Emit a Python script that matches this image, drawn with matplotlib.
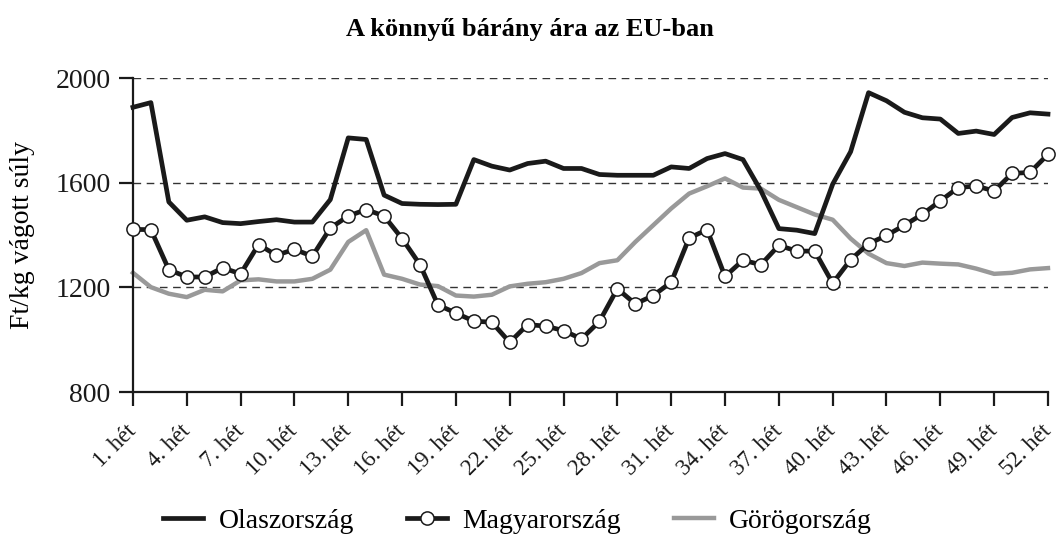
import matplotlib.pyplot as plt
import numpy as np

plt.rcParams['font.family'] = ['Liberation Serif', 'DejaVu Serif']

weeks = list(range(1, 53))
tick_weeks = list(range(1, 53, 3))
tick_labels = [str(w) + '. hét' for w in tick_weeks]

olasz = [1889, 1907, 1527, 1457, 1470, 1448, 1444, 1452, 1459, 1450,
         1450, 1536, 1772, 1766, 1553, 1521, 1518, 1517, 1518, 1689,
         1664, 1649, 1674, 1683, 1655, 1655, 1632, 1629, 1629, 1629,
         1661, 1655, 1693, 1712, 1689, 1570, 1425, 1419, 1406, 1595,
         1719, 1945, 1914, 1870, 1849, 1844, 1789, 1798, 1785, 1850,
         1868, 1863]
magyar = [1422, 1421, 1268, 1240, 1240, 1275, 1252, 1364, 1323, 1346,
          1319, 1427, 1473, 1498, 1473, 1387, 1287, 1133, 1102, 1071,
          1067, 990, 1058, 1052, 1035, 1003, 1070, 1195, 1137, 1169,
          1220, 1389, 1421, 1242, 1304, 1287, 1361, 1339, 1339, 1216,
          1306, 1367, 1399, 1438, 1480, 1531, 1582, 1588, 1569, 1636,
          1640, 1709]
gorog = [1256, 1201, 1176, 1163, 1191, 1185, 1227, 1231, 1223, 1223,
         1233, 1268, 1374, 1419, 1249, 1233, 1211, 1205, 1169, 1165,
         1172, 1204, 1214, 1220, 1233, 1255, 1293, 1304, 1374, 1438,
         1502, 1559, 1587, 1617, 1582, 1578, 1535, 1507, 1479, 1459,
         1387, 1329, 1293, 1282, 1295, 1291, 1288, 1272, 1252, 1256,
         1269, 1274]

fig = plt.figure(figsize=(10.56, 5.34), dpi=100)
ax = fig.add_axes([0.1259, 0.2659, 0.8665, 0.5875])

for y in [1200, 1600, 2000]:
    ax.axhline(y, color='#333333', lw=1.0, ls=(0, (5.5, 4)), zorder=1)

ax.plot(weeks, gorog, color='#999999', lw=3.2, label='Görögország', zorder=2, clip_on=False)
ax.plot(weeks, olasz, color='#1a1a1a', lw=3.4, label='Olaszország', zorder=3, clip_on=False)
ax.plot(weeks, magyar, color='#1a1a1a', lw=3.4, marker='o', markersize=9.5,
        markerfacecolor='white', markeredgecolor='#1a1a1a', markeredgewidth=1.1,
        label='Magyarország', zorder=4, clip_on=False)

ax.set_xlim(1, 52)
ax.set_ylim(800, 2000)
ax.set_yticks([800, 1200, 1600, 2000])
ax.set_xticks(tick_weeks)
ax.set_xticklabels(tick_labels, rotation=45, ha='right', va='center', rotation_mode='anchor')

for s in ['top', 'right']:
    ax.spines[s].set_visible(False)
for s in ['left', 'bottom']:
    ax.spines[s].set_linewidth(1.6)
    ax.spines[s].set_color('#1a1a1a')

ax.tick_params(axis='y', direction='out', length=10, width=1.6, labelsize=20, pad=6, colors='#1a1a1a')
ax.tick_params(axis='x', direction='out', length=10, width=1.6, labelsize=16.5, pad=16, colors='#1a1a1a')

fig.text(0.502, 0.944, 'A könnyű bárány ára az EU-ban', ha='center', va='center',
         fontsize=19, fontweight='bold')
fig.text(0.021, 0.56, 'Ft/kg vágott súly', ha='center', va='center', rotation=90, fontsize=20)

h, l = ax.get_legend_handles_labels()
order = [1, 2, 0]
fig.legend([h[i] for i in order], [l[i] for i in order], loc='center', ncol=3,
           bbox_to_anchor=(0.49, 0.024), frameon=False, fontsize=20,
           handlelength=1.45, handletextpad=0.55, columnspacing=1.9)

fig.savefig('out.png', dpi=100)
